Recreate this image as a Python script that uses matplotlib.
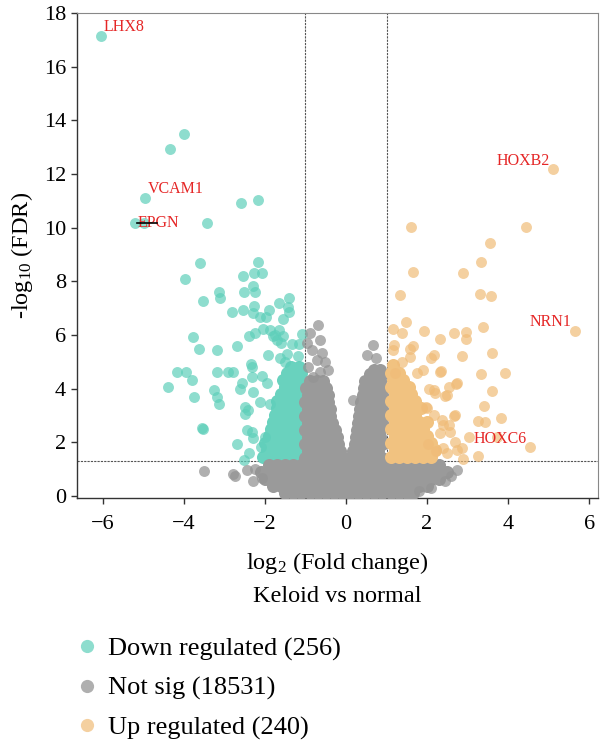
import matplotlib
matplotlib.use("Agg")
import matplotlib.pyplot as plt
from matplotlib.lines import Line2D

plt.rcParams['font.family'] = ['Liberation Serif', 'DejaVu Serif']
plt.rcParams['mathtext.fontset'] = 'custom'
plt.rcParams['mathtext.rm'] = 'Liberation Serif'
plt.rcParams['mathtext.it'] = 'Liberation Serif:italic'

# ---------------- data (log2 fold change, -log10 FDR) ----------------
down_pts = [
    (-6.04, 17.14), (-3.99, 13.50), (-4.35, 12.94), (-4.96, 11.10), (-5.22, 10.19),
    (-4.98, 10.19), (-3.44, 10.19), (-2.58, 10.93), (-2.16, 11.02),
    (-3.60, 8.67), (-3.97, 8.08), (-3.53, 7.28), (-3.14, 7.62), (-3.12, 7.37), (-2.82, 6.85),
    (-2.55, 8.21), (-2.28, 8.30), (-2.17, 8.71), (-2.07, 8.30), (-2.51, 7.59), (-2.29, 7.84),
    (-2.24, 7.59), (-2.54, 6.93), (-2.28, 7.09), (-2.30, 6.81), (-2.12, 6.66), (-1.90, 6.93),
    (-1.98, 6.68), (-1.66, 7.19), (-1.41, 7.37), (-1.43, 7.03), (-1.40, 6.85), (-1.56, 6.60),
    (-3.78, 5.93), (-3.63, 5.50), (-3.19, 5.45), (-2.69, 5.59), (-2.39, 5.96), (-2.25, 6.06),
    (-2.06, 6.22), (-1.88, 6.19), (-1.80, 5.96), (-1.65, 6.19), (-1.71, 5.81), (-1.33, 5.65),
    (-1.17, 5.66), (-1.09, 6.03), (-1.19, 5.22), (-1.92, 5.26), (-1.63, 5.15), (-2.35, 4.92),
    (-2.31, 4.82), (-1.75, 6.00), (-1.55, 5.95), (-1.60, 5.70), (-1.45, 5.30), (-1.50, 5.00),
    (-4.16, 4.61), (-3.95, 4.61), (-3.81, 4.32), (-4.40, 4.05), (-3.74, 3.70), (-3.19, 4.63),
    (-2.92, 4.61), (-2.79, 4.63), (-3.26, 3.95), (-3.19, 3.70), (-3.14, 3.43), (-2.57, 4.20),
    (-2.62, 3.98), (-2.29, 3.89), (-2.33, 4.45), (-2.07, 4.48), (-2.12, 3.51), (-1.88, 3.45),
    (-1.94, 4.20), (-2.49, 3.33), (-2.43, 3.21), (-2.49, 3.05), (-3.56, 2.55), (-3.54, 2.50),
    (-2.45, 2.46), (-2.33, 2.40), (-2.29, 2.15), (-2.70, 1.93), (-2.40, 1.61), (-2.51, 1.34),
    (-2.10, 1.84), (-2.00, 2.21),
]
# dense down-regulated cloud next to the -1 cut-off: (FDR level, [log2FC ...])
down_dense_rows = [
    (1.45, [-2.05, -1.85, -1.65, -1.45, -1.25, -1.08]),
    (1.71, [-1.95, -1.75, -1.55, -1.35, -1.15]),
    (1.97, [-2.00, -1.85, -1.65, -1.45, -1.25, -1.08]),
    (2.23, [-1.90, -1.75, -1.55, -1.35, -1.15]),
    (2.49, [-1.85, -1.65, -1.45, -1.25, -1.08]),
    (2.75, [-1.80, -1.60, -1.40, -1.20]),
    (3.01, [-1.75, -1.55, -1.35, -1.15]),
    (3.27, [-1.70, -1.50, -1.30, -1.10]),
    (3.53, [-1.70, -1.50, -1.30, -1.12]),
    (3.79, [-1.60, -1.40, -1.20, -1.08]),
    (4.05, [-1.50, -1.30, -1.12]),
    (4.31, [-1.55, -1.35, -1.15]),
    (4.57, [-1.45, -1.25, -1.10]),
    (4.80, [-1.35, -1.15]),
]

up_pts = [
    (5.12, 12.18), (1.60, 10.03), (4.45, 10.02), (3.55, 9.44), (3.32, 8.72), (1.66, 8.35),
    (2.88, 8.30), (1.34, 7.48), (3.30, 7.54), (3.57, 7.47), (1.48, 6.47), (3.38, 6.31),
    (5.64, 6.15), (1.16, 6.21), (1.37, 6.09), (1.92, 6.17), (2.67, 6.07), (2.96, 6.12),
    (2.96, 5.84), (2.33, 5.84), (1.19, 5.63), (1.66, 5.59), (1.58, 5.50), (1.16, 5.44),
    (2.16, 5.24), (2.10, 5.13), (2.86, 5.23), (3.60, 5.33), (1.37, 5.01), (1.58, 5.19),
    (2.35, 4.65), (3.32, 4.55), (3.93, 4.57), (1.91, 4.70), (1.75, 4.57), (1.21, 4.57),
    (2.71, 4.16), (2.54, 4.07), (2.06, 3.98), (3.61, 3.93), (2.44, 3.74), (2.20, 3.83),
    (1.98, 3.33), (3.40, 3.34), (2.67, 2.99), (2.16, 3.02), (2.37, 2.83), (3.25, 2.81),
    (3.44, 2.77), (3.82, 2.92), (2.53, 2.65), (3.04, 2.21), (3.72, 2.21), (4.54, 1.82),
    (2.49, 1.59), (2.90, 1.40), (3.27, 1.49), (2.73, 1.71), (2.22, 1.69), (2.03, 1.96),
    (2.32, 2.34), (2.32, 4.63), (2.73, 4.20), (2.16, 3.95), (2.49, 3.76), (1.99, 3.27),
    (2.69, 3.02), (2.40, 2.65), (2.57, 2.40), (2.69, 2.02), (2.86, 1.78), (2.40, 1.80),
]
up_dense_rows = [
    (1.45, [1.10, 1.30, 1.50, 1.70, 1.90, 2.10]),
    (1.71, [1.20, 1.40, 1.60, 1.80, 2.00, 2.20]),
    (1.97, [1.10, 1.30, 1.50, 1.70, 1.90, 2.10]),
    (2.23, [1.20, 1.40, 1.60, 1.80, 2.00]),
    (2.49, [1.10, 1.30, 1.50, 1.70, 1.90]),
    (2.75, [1.20, 1.40, 1.60, 1.80, 2.00]),
    (3.01, [1.10, 1.30, 1.50, 1.70]),
    (3.27, [1.20, 1.40, 1.60, 1.85]),
    (3.53, [1.10, 1.30, 1.50, 1.70]),
    (3.79, [1.20, 1.40, 1.60]),
    (4.05, [1.10, 1.30, 1.55]),
    (4.31, [1.15, 1.40]),
    (4.60, [1.10, 1.30]),
    (4.90, [1.15]),
]

ns_pts = [
    (-3.51, 0.93), (-2.78, 0.82), (-2.74, 0.76), (-2.45, 0.96), (-2.25, 1.02), (-2.08, 0.66),
    (-2.30, 0.55), (2.73, 0.97), (2.60, 0.75), (2.45, 0.55), (2.10, 0.30), (1.80, 0.20),
    (-0.68, 6.37), (-0.89, 6.06), (-0.64, 5.81), (-0.97, 5.69), (-0.85, 5.44), (-0.60, 5.32),
    (-0.72, 5.07), (-0.52, 5.01), (-0.93, 4.82), (-0.44, 4.70), (-0.64, 4.63), (-0.81, 4.45),
    (0.67, 5.63), (0.51, 5.26), (0.74, 5.13), (0.18, 3.58),
]
ns_band_rows = [
    (0.12, [-1.5, -1.3, -1.1, -0.9, -0.7, -0.5, -0.3, -0.1, 0.1, 0.3, 0.5, 0.7, 0.9, 1.1, 1.3, 1.5, 1.65]),
    (0.38, [-1.8, -1.6, -1.4, -1.2, -1.0, -0.8, -0.6, -0.4, -0.2, 0.0, 0.2, 0.4, 0.6, 0.8, 1.0, 1.2, 1.4, 1.6, 1.8, 2.0]),
    (0.64, [-2.0, -1.9, -1.7, -1.5, -1.3, -1.1, -0.9, -0.7, -0.5, -0.3, -0.1, 0.1, 0.3, 0.5, 0.7, 0.9, 1.1, 1.3, 1.5, 1.7, 1.9, 2.1, 2.3]),
    (0.90, [-2.1, -1.9, -1.7, -1.5, -1.3, -1.1, -0.9, -0.7, -0.5, -0.3, -0.1, 0.1, 0.3, 0.5, 0.7, 0.9, 1.1, 1.3, 1.5, 1.7, 1.9, 2.1, 2.3, 2.5]),
    (1.16, [-1.9, -1.7, -1.5, -1.3, -1.1, -0.9, -0.7, -0.5, -0.3, -0.1, 0.1, 0.3, 0.5, 0.7, 0.9, 1.1, 1.3, 1.5, 1.7, 1.9, 2.1, 2.3]),
]
ns_left_rows = [
    (1.42, [-1.00, -0.80, -0.60, -0.40, -0.20, -0.08]),
    (1.68, [-0.95, -0.75, -0.55, -0.35, -0.14]),
    (1.94, [-1.00, -0.80, -0.60, -0.40, -0.20]),
    (2.20, [-0.95, -0.75, -0.55, -0.35, -0.23]),
    (2.46, [-1.00, -0.80, -0.60, -0.42, -0.27]),
    (2.72, [-0.95, -0.75, -0.55, -0.35]),
    (2.98, [-1.00, -0.80, -0.60, -0.40]),
    (3.24, [-0.95, -0.75, -0.55, -0.40]),
    (3.50, [-1.00, -0.80, -0.62, -0.45]),
    (3.76, [-0.95, -0.75, -0.55, -0.45]),
    (4.02, [-0.98, -0.80, -0.62, -0.50]),
    (4.28, [-0.90, -0.72, -0.56]),
]
ns_right_rows = [
    (1.42, [0.10, 0.30, 0.50, 0.70, 0.88]),
    (1.68, [0.18, 0.40, 0.60, 0.80]),
    (1.94, [0.22, 0.40, 0.60, 0.80, 0.90]),
    (2.20, [0.25, 0.45, 0.65, 0.85]),
    (2.46, [0.27, 0.45, 0.65, 0.85]),
    (2.72, [0.30, 0.50, 0.70, 0.88]),
    (2.98, [0.32, 0.50, 0.70, 0.88]),
    (3.24, [0.35, 0.55, 0.75, 0.88]),
    (3.50, [0.38, 0.55, 0.72, 0.88]),
    (3.76, [0.41, 0.60, 0.78, 0.90]),
    (4.02, [0.44, 0.62, 0.80, 0.90]),
    (4.28, [0.48, 0.66, 0.84]),
    (4.54, [0.58, 0.75, 0.90]),
    (4.70, [0.70, 0.85]),
]

labels = ["LHX8", "VCAM1", "EPGN", "HOXB2", "NRN1", "HOXC6"]
label_xy = [(-5.99, 17.46), (-4.88, 11.46), (-5.15, 10.17), (3.72, 12.49), (4.54, 6.47), (3.16, 2.12)]

legend_labels = ["Down regulated (256)", "Not sig (18531)", "Up regulated (240)"]
fc_cut = [-1, 1]
fdr_cut = 1.301


def unpack(pts):
    return [p[0] for p in pts], [p[1] for p in pts]


def rows_xy(rows):
    xs, ys = [], []
    for yv, xrow in rows:
        xs += xrow
        ys += [yv] * len(xrow)
    return xs, ys


c_down = "#5ECFBA"
c_ns = "#949494"
c_up = "#F0BC78"
# colours of the saturated (heavily overplotted) cores
c_down_dense = "#69D2BE"
c_ns_dense = "#9A9A9A"
c_up_dense = "#F1C280"
alpha = 0.7
ms = 62        # isolated points
ms_dense = 88  # dense cloud points

fig = plt.figure(figsize=(6.0, 7.43), dpi=100)
ax = fig.add_axes([77 / 600, 1 - 498 / 743, (598 - 77) / 600, (498 - 13) / 743])

for v in fc_cut:
    ax.axvline(v, color="#555555", lw=0.8, ls=(0, (2, 1)), zorder=1)
ax.axhline(fdr_cut, color="#555555", lw=0.8, ls=(0, (2, 1)), zorder=1)

# down regulated
x, y = rows_xy(down_dense_rows)
ax.scatter(x, y, s=ms_dense, color=c_down_dense, lw=0, zorder=2)
x, y = unpack(down_pts)
ax.scatter(x, y, s=ms, color=c_down, alpha=alpha, lw=0, zorder=2)
# not significant
x, y = rows_xy(ns_band_rows + ns_left_rows + ns_right_rows)
ax.scatter(x, y, s=ms_dense, color=c_ns_dense, lw=0, zorder=3)
x, y = unpack(ns_pts)
ax.scatter(x, y, s=ms, color=c_ns, alpha=0.75, lw=0, zorder=3)
# up regulated
x, y = rows_xy(up_dense_rows)
ax.scatter(x, y, s=ms_dense, color=c_up_dense, lw=0, zorder=4)
x, y = unpack(up_pts)
ax.scatter(x, y, s=ms, color=c_up, alpha=alpha, lw=0, zorder=4)

for t, (lx, ly) in zip(labels, label_xy):
    ax.text(lx, ly, t, color="#E52626", fontsize=11.5, ha="left", va="center", zorder=6)
# connector segment for EPGN
ax.plot([-5.15, -4.67], [10.19, 10.19], color="black", lw=1.2, zorder=7)

ax.set_xlim(-6.64, 6.22)
ax.set_ylim(-0.07, 18.0)
ax.set_xticks([-6, -4, -2, 0, 2, 4, 6])
ax.set_xticklabels(["\u22126", "\u22124", "\u22122", "0", "2", "4", "6"])
ax.set_yticks(range(0, 19, 2))
ax.tick_params(labelsize=16, length=4, width=1, color="#333333", direction="out")
ax.tick_params(axis="x", pad=8)
ax.tick_params(axis="y", pad=4)

for s in ["left", "bottom"]:
    ax.spines[s].set_color("#333333")
    ax.spines[s].set_linewidth(1.0)
for s in ["top", "right"]:
    ax.spines[s].set_color("#888888")
    ax.spines[s].set_linewidth(0.8)

ax.set_ylabel(r"-log$_{10}$ (FDR)", fontsize=17.5, labelpad=6)
ax.set_xlabel("log$_2$ (Fold change)\nKeloid vs normal", fontsize=17.5, labelpad=12, linespacing=1.6)

handles = [
    Line2D([], [], ls="none", marker="o", markersize=9.5, markerfacecolor=c, markeredgewidth=0, alpha=a)
    for c, a in [(c_down, alpha), (c_ns, 0.75), (c_up, alpha)]
]
fig.legend(handles, legend_labels, loc="upper left", bbox_to_anchor=(0.127, 1 - 637 / 743),
           frameon=False, fontsize=19, handlelength=0.8, handletextpad=0.42,
           labelspacing=0.59, borderaxespad=0, borderpad=0)

fig.savefig("out.png", dpi=100)
